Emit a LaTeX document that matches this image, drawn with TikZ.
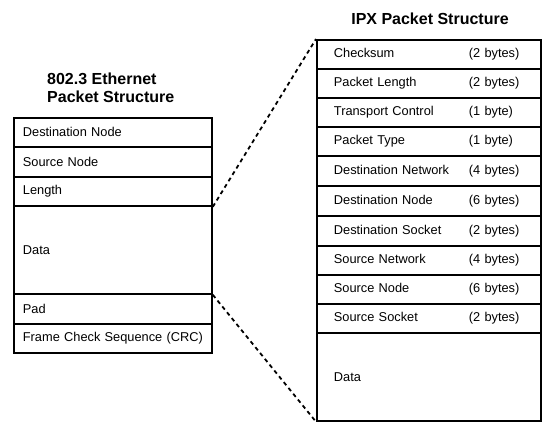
\documentclass[tikz,border=0pt]{standalone}
\usepackage{fontspec}
\setmainfont{Liberation Sans}
\begin{document}
\begin{tikzpicture}[x=1pt,y=-1pt,
  rowfont/.style={font=\fontsize{12.8}{15}\selectfont},
  lrow/.style={draw, line width=1.8pt, rectangle, rowfont, inner ysep=0pt, inner xsep=9pt,
     text width=180pt, align=left, minimum width=198pt, anchor=north west},
  rrow/.style={draw, line width=1.8pt, rectangle, rowfont, inner ysep=0pt, inner xsep=17pt,
     text width=190pt, align=left, minimum width=224pt, anchor=north west},
  ttl/.style={font=\fontsize{16}{18}\selectfont\bfseries, inner sep=0pt},
  link/.style={line width=1.8pt, dash pattern=on 4pt off 3.5pt}
]
\useasboundingbox (0,0) rectangle (549,431);
\newcommand{\fld}[2]{\makebox[135pt][l]{#1}#2}
% titles
\node[ttl, anchor=north west, align=left] (ethtitle) at (47,73) {802.3 Ethernet\\Packet Structure};
\node[ttl, anchor=base] (ipxtitle) at (430,24) {IPX Packet Structure};
% Ethernet frame
\node[lrow, minimum height=29pt] (edst) at (13,117) {Destination Node};
\node[lrow, minimum height=30pt] (esrc) at (13,146) {Source Node};
\node[lrow, minimum height=29pt] (elen) at (13,176) {Length};
\node[lrow, minimum height=88pt] (edata) at (13,205) {Data};
\node[lrow, minimum height=30pt] (epad) at (13,293) {Pad};
\node[lrow, minimum height=29pt] (efcs) at (13,323) {Frame Check Sequence (CRC)};
% IPX packet
\node[rrow, minimum height=29pt] (ichk) at (316,39) {\fld{Checksum}{(2 bytes)}};
\node[rrow, minimum height=29pt] (ilen) at (316,68) {\fld{Packet Length}{(2 bytes)}};
\node[rrow, minimum height=29pt] (itc) at (316,97) {\fld{Transport Control}{(1 byte)}};
\node[rrow, minimum height=29pt] (ityp) at (316,126) {\fld{Packet Type}{(1 byte)}};
\node[rrow, minimum height=30pt] (idnet) at (316,155) {\fld{Destination Network}{(4 bytes)}};
\node[rrow, minimum height=30pt] (idnode) at (316,185) {\fld{Destination Node}{(6 bytes)}};
\node[rrow, minimum height=30pt] (idsock) at (316,215) {\fld{Destination Socket}{(2 bytes)}};
\node[rrow, minimum height=29pt] (isnet) at (316,245) {\fld{Source Network}{(4 bytes)}};
\node[rrow, minimum height=29pt] (isnode) at (316,274) {\fld{Source Node}{(6 bytes)}};
\node[rrow, minimum height=29pt] (issock) at (316,303) {\fld{Source Socket}{(2 bytes)}};
\node[rrow, minimum height=88pt] (idata) at (316,332) {Data};
% connectors
\draw[link] (elen.south east) -- (ichk.north west);
\draw[link] (edata.south east) -- (idata.south west);
\end{tikzpicture}
\end{document}
